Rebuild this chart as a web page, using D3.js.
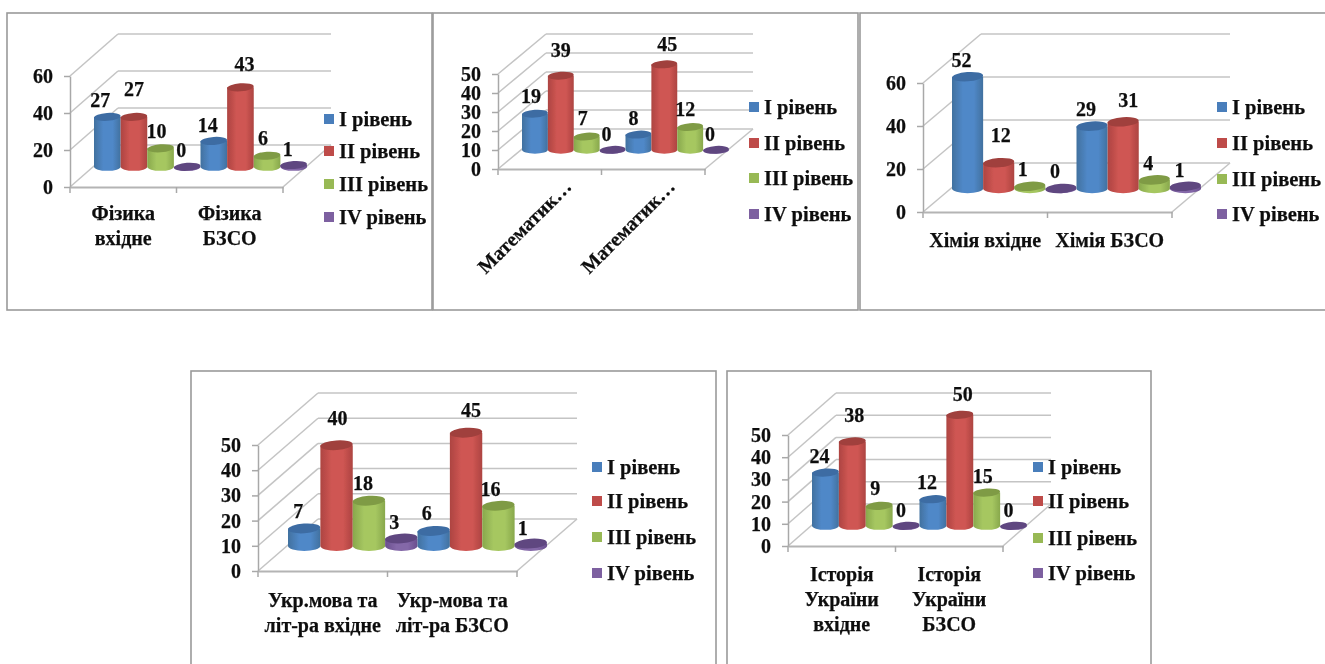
<!DOCTYPE html>
<html>
<head>
<meta charset="utf-8">
<script src="https://cdn.jsdelivr.net/npm/d3@7"></script>
<style>
  body { margin: 0; background: #fff; }
  svg { display: block; }
  text { font-family: "Liberation Serif", serif; font-weight: bold; fill: #111; stroke: #111; stroke-width: 0.25px; font-size: 20px; }
  .legend text { font-size: 20.5px; }
</style>
</head>
<body>
<svg id="drawSpace" width="1325" height="664"></svg>
<script>
// Data
let seriesNames = ["I рівень", "II рівень", "III рівень", "IV рівень"]

let physicsCategories = [["Фізика", "вхідне"], ["Фізика", "БЗСО"]]
let physicsValues = [[27, 27, 10, 0], [14, 43, 6, 1]]
let physicsTicks = [0, 20, 40, 60]

let mathCategories = [["Математик…"], ["Математик…"]]
let mathValues = [[19, 39, 7, 0], [8, 45, 12, 0]]
let mathTicks = [0, 10, 20, 30, 40, 50]

let chemistryCategories = [["Хімія вхідне"], ["Хімія БЗСО"]]
let chemistryValues = [[52, 12, 1, 0], [29, 31, 4, 1]]
let chemistryTicks = [0, 20, 40, 60]

let ukrainianCategories = [["Укр.мова та", "літ-ра вхідне"], ["Укр-мова та", "літ-ра БЗСО"]]
let ukrainianValues = [[7, 40, 18, 3], [6, 45, 16, 1]]
let ukrainianTicks = [0, 10, 20, 30, 40, 50]

let historyCategories = [["Історія", "України", "вхідне"], ["Історія", "України", "БЗСО"]]
let historyValues = [[24, 38, 9, 0], [12, 50, 15, 0]]
let historyTicks = [0, 10, 20, 30, 40, 50]

// Colours: side edge, side middle, top of the cylinder, legend swatch
let seriesColors = [
    ["#41719f", "#5088c8", "#3c6ca3", "#4a7ebb"],
    ["#ad4441", "#cf5653", "#a03f3c", "#be4b48"],
    ["#88a84c", "#a6c761", "#7f9b45", "#98b954"],
    ["#6a4f8e", "#8468a8", "#5f4680", "#7d60a0"]
]

// Layout of each chart
let charts = [
    { categories: physicsCategories, values: physicsValues, ticks: physicsTicks,
      frame: [7, 13, 425, 297], x0: 70, x1: 283, y0: 187, yTop: 76, dx: 48, dy: 42,
      legendX: 324, legendY: [119, 151, 184, 217], catY: 213,
      nudge: [[-7,-17],[0,-28],[-4,-17],[-6,-17],[-6,-16],[4,-23],[-4,-18],[-6,-16]] },
    { categories: mathCategories, values: mathValues, ticks: mathTicks, rotate: true,
      frame: [433, 13, 425, 297], x0: 498, x1: 705, y0: 169, yTop: 74, dx: 48, dy: 40,
      legendX: 749, legendY: [107, 143, 178, 214], catY: 183,
      nudge: [[-4,-18],[0,-26],[-4,-18],[-6,-16],[-5,-17],[3,-20],[-5,-18],[-6,-16]] },
    { categories: chemistryCategories, values: chemistryValues, ticks: chemistryTicks,
      frame: [860, 13, 480, 297], x0: 923, x1: 1172, y0: 212, yTop: 83, dx: 58, dy: 49,
      legendX: 1217, legendY: [107, 143, 179, 214], catY: 240,
      nudge: [[-6,-17],[2,-28],[-7,-17],[-6,-17],[-6,-17],[5,-22],[-6,-17],[-6,-16]] },
    { categories: ukrainianCategories, values: ukrainianValues, ticks: ukrainianTicks,
      frame: [191, 371, 525, 320], x0: 258, x1: 517, y0: 571, yTop: 445, dx: 60, dy: 52,
      legendX: 592, legendY: [467, 501, 537, 573], catY: 600,
      nudge: [[-6,-17],[1,-27],[-6,-18],[-7,-16],[-7,-18],[5,-23],[-8,-17],[-8,-16]] },
    { categories: historyCategories, values: historyValues, ticks: historyTicks,
      frame: [727, 371, 424, 320], x0: 788, x1: 1003, y0: 546, yTop: 435, dx: 48, dy: 42,
      legendX: 1033, legendY: [467, 501, 538, 573], catY: 574,
      nudge: [[-6,-17],[2,-26],[-4,-18],[-5,-16],[-6,-17],[3,-21],[-4,-17],[-5,-16]] }
]

let gridColor = "#c4c4c4"
let lineHeight = 25

let svg = d3.select("#drawSpace")
let defs = svg.append("defs")

// the source is a slightly soft screenshot
defs.append("filter").attr("id", "soft")
    .append("feGaussianBlur").attr("stdDeviation", 0.45)

seriesColors.forEach((c, i) => {
    let grad = defs.append("linearGradient").attr("id", "cyl" + i)
    grad.append("stop").attr("offset", "0%").attr("stop-color", c[0])
    grad.append("stop").attr("offset", "35%").attr("stop-color", c[1])
    grad.append("stop").attr("offset", "70%").attr("stop-color", c[1])
    grad.append("stop").attr("offset", "100%").attr("stop-color", c[0])
})

let root = svg.append("g").attr("filter", "url(#soft)")

function renderChart(chart, drawSpace) {

    let catIndex = d3.range(chart.categories.length)
    let maxTick = d3.max(chart.ticks)

    let xCat = d3.scaleBand().domain(catIndex).range([chart.x0, chart.x1])
    let xSeries = d3.scaleBand().domain(d3.range(seriesNames.length)).range([0, xCat.bandwidth()])
    let y = d3.scaleLinear().domain([0, maxTick]).range([chart.y0, chart.yTop])

    // Frame
    drawSpace.append("rect")
        .attr("x", chart.frame[0]).attr("y", chart.frame[1])
        .attr("width", chart.frame[2]).attr("height", chart.frame[3])
        .attr("fill", "white").attr("stroke", "#9a9a9a").attr("stroke-width", 1.6)

    // Back wall and side wall grid lines
    drawSpace.selectAll("line.back").data(chart.ticks).enter().append("line")
        .attr("x1", chart.x0 + chart.dx).attr("x2", chart.x1 + chart.dx)
        .attr("y1", d => y(d) - chart.dy).attr("y2", d => y(d) - chart.dy)
        .attr("stroke", gridColor).attr("stroke-width", 1.5)
    drawSpace.selectAll("line.side").data(chart.ticks).enter().append("line")
        .attr("x1", chart.x0).attr("x2", chart.x0 + chart.dx)
        .attr("y1", d => y(d)).attr("y2", d => y(d) - chart.dy)
        .attr("stroke", gridColor).attr("stroke-width", 1.5)

    // Floor: right edge
    drawSpace.append("line")
        .attr("x1", chart.x1).attr("x2", chart.x1 + chart.dx)
        .attr("y1", chart.y0).attr("y2", chart.y0 - chart.dy)
        .attr("stroke", gridColor).attr("stroke-width", 1.5)

    // Axes
    let yAxis = drawSpace.append("g")
        .attr("transform", `translate(${chart.x0},0)`)
        .call(d3.axisLeft(y).tickValues(chart.ticks).tickSize(6).tickSizeOuter(0).tickPadding(11))
    yAxis.selectAll("path,line").attr("stroke", "#a8a8a8").attr("stroke-width", 1.5)

    let xAxis = drawSpace.append("g")
        .attr("transform", `translate(0,${chart.y0})`)
        .call(d3.axisBottom(xCat).tickSize(0).tickSizeOuter(0).tickFormat(""))
    xAxis.selectAll("path").attr("stroke", "#b4b4b4").attr("stroke-width", 2)

    // tick marks sit on the band edges
    drawSpace.selectAll("line.edge").data(d3.range(catIndex.length + 1)).enter().append("line")
        .attr("x1", d => chart.x0 + d * xCat.step()).attr("x2", d => chart.x0 + d * xCat.step())
        .attr("y1", chart.y0).attr("y2", chart.y0 + 6)
        .attr("stroke", "#a8a8a8").attr("stroke-width", 1.5)

    // Category labels
    chart.categories.forEach((lines, c) => {
        let cx = xCat(c) + xCat.bandwidth() / 2
        if (chart.rotate) {
            drawSpace.append("text")
                .attr("text-anchor", "end")
                .attr("transform", `translate(${cx + 18},${chart.catY}) rotate(-45)`)
                .attr("dy", "0.35em")
                .text(lines[0])
        } else {
            lines.forEach((line, i) => {
                drawSpace.append("text")
                    .attr("text-anchor", "middle")
                    .attr("x", cx).attr("y", chart.catY + i * lineHeight)
                    .attr("dy", "0.35em")
                    .text(line)
            })
        }
    })

    // Bars stand half way into the floor
    let bars = drawSpace.append("g")
        .attr("transform", `translate(${chart.dx * 0.5},${-chart.dy * 0.48})`)

    let flat = []
    chart.values.forEach((row, c) => row.forEach((v, s) => flat.push({ c: c, s: s, v: v })))

    let rx = xSeries.bandwidth() / 2
    let ry = rx * 0.3

    let cyl = bars.selectAll("g").data(flat).enter().append("g")
        .attr("transform", d => `translate(${xCat(d.c) + xSeries(d.s) + rx},0)`)

    cyl.append("path")
        .attr("d", d => `M${-rx},${y(d.v)} L${-rx},${y(0)} A${rx},${ry} 0 0 0 ${rx},${y(0)} L${rx},${y(d.v)} Z`)
        .attr("fill", d => `url(#cyl${d.s})`)
    cyl.append("ellipse")
        .attr("rx", rx).attr("ry", ry)
        .attr("transform", d => `translate(0,${y(d.v)}) rotate(-4)`)
        .attr("fill", d => seriesColors[d.s][2])

    // Data labels
    bars.selectAll("text").data(flat).enter().append("text")
        .attr("text-anchor", "middle")
        .attr("x", (d, i) => xCat(d.c) + xSeries(d.s) + rx + chart.nudge[i][0])
        .attr("y", (d, i) => y(d.v) + chart.nudge[i][1])
        .attr("dy", "0.35em")
        .text(d => d.v)

    // Legend
    let legend = drawSpace.selectAll("g.legend").data(seriesNames).enter().append("g")
        .attr("class", "legend")
        .attr("transform", (d, i) => `translate(${chart.legendX},${chart.legendY[i]})`)
    legend.append("rect")
        .attr("x", 0).attr("y", -5).attr("width", 10).attr("height", 10)
        .attr("fill", (d, i) => seriesColors[i][3])
    legend.append("text")
        .attr("x", 15).attr("dy", "0.35em")
        .text(d => d)
}

charts.forEach(chart => renderChart(chart, root.append("g")))
</script>
</body>
</html>
